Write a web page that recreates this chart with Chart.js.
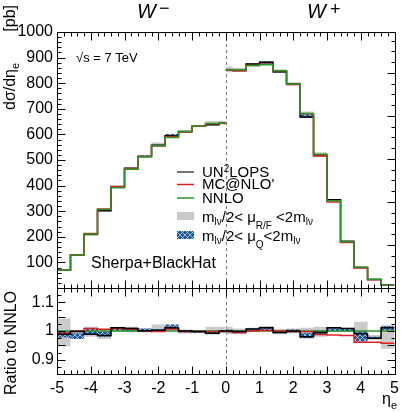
<!DOCTYPE html>
<html>
<head>
<meta charset="utf-8">
<script src="https://cdn.jsdelivr.net/npm/chart.js@4.4.0/dist/chart.umd.min.js"></script>
<style>
  html, body { margin: 0; padding: 0; background: #fff; }
  #wrap { width: 404px; height: 412px; }
</style>
</head>
<body>
<div id="wrap"><canvas id="plot" width="404" height="412"></canvas></div>
<script>
  // bin edges in eta_e (W- drawn at eta<0, W+ at eta>0)
  const edges = [-5, -4.6, -4.2, -3.8, -3.4, -3.0, -2.6, -2.2, -1.8, -1.4, -1.0, -0.6, -0.2, 0,
    0.2, 0.6, 1.0, 1.4, 1.8, 2.2, 2.6, 3.0, 3.4, 3.8, 4.2, 4.6, 5];
  // NNLO dsigma/deta_e [pb]
  const nnlo = [70, 129, 211, 307, 392, 464, 513, 556, 588, 611, 633, 643, 644,
    852, 853, 869, 872, 849, 797, 682, 522, 341, 181, 81, 34, 12];
  // ratios to NNLO
  const ratioUn = [0.989, 0.998, 0.989, 0.984, 1.011, 1.009, 1.001, 1.003, 1.011, 1.0, 0.998, 0.992, 1.0,
    1.0, 0.998, 1.007, 1.011, 0.995, 1.0, 0.98, 0.995, 1.011, 1.009, 0.99, 0.975, 1.011];
  const ratioMc = [0.992, 1.0, 1.009, 1.006, 1.009, 1.006, 1.001, 0.998, 1.007, 0.998, 0.998, 0.998, 0.998,
    0.998, 0.995, 1.0, 1.002, 1.0, 0.998, 0.998, 0.988, 0.986, 0.984, 0.961, 0.961, 0.957];
  // mu_R/F band
  const grayLo = [0.946, 0.986, 0.98, 0.972, 0.998, 0.998, 0.995, 0.998, 1.0, 0.991, 0.992, 0.992, 0.998,
    0.989, 0.989, 0.998, 1.0, 0.989, 0.992, 0.98, 0.98, 0.998, 0.998, 0.988, 0.969, 0.938];
  const grayHi = [1.044, 1.003, 1.015, 1.003, 1.015, 1.015, 1.009, 1.023, 1.018, 1.005, 1.003, 1.015, 1.015,
    1.015, 1.009, 1.011, 1.016, 1.007, 1.009, 1.011, 1.015, 1.014, 1.011, 1.032, 0.986, 1.009];
  // mu_Q band
  const blueLo = [0.977, 0.972, 0.989, 0.98, 1.0, 0.998, 0.998, 0.998, 1.007, 0.995, 0.994, 0.989, 0.995,
    0.995, 0.992, 1.0, 1.003, 0.992, 0.995, 0.975, 0.989, 0.998, 0.998, 0.963, 0.972, 1.003];
  const blueHi = [1.0, 0.992, 1.009, 0.998, 1.011, 1.011, 1.009, 1.007, 1.023, 1.002, 1.001, 1.0, 1.003,
    1.005, 1.003, 1.009, 1.015, 1.0, 1.005, 0.994, 1.003, 1.011, 1.009, 0.998, 0.98, 1.018];

  const xTicks = [-5, -4, -3, -2, -1, 0, 1, 2, 3, 4, 5];
  const yTicks = [100, 200, 300, 400, 500, 600, 700, 800, 900, 1000];
  const rTicks = [0.9, 1, 1.1];

  const FONT = '"Liberation Sans", Arial, sans-serif';

  // step histogram points, gap at eta=0 between W- and W+
  function steps(vals, fac) {
    const pts = [];
    for (let i = 0; i < vals.length; i++) {
      if (i > 0 && edges[i] === 0) pts.push({x: 0, y: null});
      const v = fac ? vals[i] * fac[i] : vals[i];
      pts.push({x: edges[i], y: v}, {x: edges[i + 1], y: v});
    }
    return pts;
  }
  const ones = nnlo.map(() => 1);

  // blue cross-hatch
  const pc = document.createElement('canvas');
  pc.width = 5; pc.height = 5;
  const p = pc.getContext('2d');
  p.fillStyle = '#1d5597';
  p.fillRect(0, 0, 5, 5);
  p.strokeStyle = 'rgba(210,225,245,0.9)';
  p.lineWidth = 0.8;
  p.beginPath();
  p.moveTo(0, 0); p.lineTo(5, 5);
  p.moveTo(5, 0); p.lineTo(0, 5);
  p.stroke();
  const hatch = document.getElementById('plot').getContext('2d').createPattern(pc, 'repeat');

  const GRAY = 'rgba(185,185,185,0.75)';
  const RED = 'rgb(225,30,30)';
  const GREEN = 'rgb(40,150,40)';

  function band(axis, lo, hi, fill, order) {
    return [
      {data: steps(nnlo, hi), yAxisID: axis, borderWidth: 0, backgroundColor: fill, fill: '+1', order: order},
      {data: steps(nnlo, lo), yAxisID: axis, borderWidth: 0, fill: false, order: order}
    ];
  }
  function ratioBand(lo, hi, fill, order) {
    return [
      {data: steps(hi), yAxisID: 'y2', borderWidth: 0, backgroundColor: fill, fill: '+1', order: order},
      {data: steps(lo), yAxisID: 'y2', borderWidth: 0, fill: false, order: order}
    ];
  }

  const datasets = [
    ...band('y', grayLo, grayHi, GRAY, 8),
    ...band('y', blueLo, blueHi, hatch, 7),
    {data: steps(nnlo, ratioUn), yAxisID: 'y', borderColor: '#000', borderWidth: 1.5, fill: false, order: 4},
    {data: steps(nnlo, ratioMc), yAxisID: 'y', borderColor: RED, borderWidth: 1.5, fill: false, order: 3},
    {data: steps(nnlo), yAxisID: 'y', borderColor: GREEN, borderWidth: 1.5, fill: false, order: 2},
    ...ratioBand(grayLo, grayHi, GRAY, 8),
    ...ratioBand(blueLo, blueHi, hatch, 7),
    {data: steps(ones), yAxisID: 'y2', borderColor: GREEN, borderWidth: 1.5, fill: false, order: 3},
    {data: steps(ratioMc), yAxisID: 'y2', borderColor: RED, borderWidth: 1.5, fill: false, order: 2},
    {data: steps(ratioUn), yAxisID: 'y2', borderColor: '#000', borderWidth: 1.5, fill: false, order: 1}
  ];

  function rich(ctx, x, y, parts) {
    for (const [t, size, dy] of parts) {
      ctx.font = size + 'px ' + FONT;
      ctx.fillText(t, x, y + dy);
      x += ctx.measureText(t).width;
    }
  }

  function ticksX(ctx, sx, yEdge, dir) {
    for (let v = -5; v <= 5.001; v += 0.2) {
      const major = Math.abs(v - Math.round(v)) < 1e-6;
      const px = Math.round(sx.getPixelForValue(v)) + 0.5;
      ctx.moveTo(px, yEdge);
      ctx.lineTo(px, yEdge + dir * (major ? 8 : 4));
    }
  }
  function ticksY(ctx, sy, from, to, step, majorEvery, xEdge, dir) {
    let k = 0;
    for (let v = from; v <= to + 1e-9; v += step, k++) {
      const major = k % majorEvery === 0;
      const py = Math.round(sy.getPixelForValue(v)) + 0.5;
      ctx.moveTo(xEdge, py);
      ctx.lineTo(xEdge + dir * (major ? 8 : 4), py);
    }
  }

  const deco = {
    id: 'deco',
    beforeDatasetsDraw(chart) {
      const {ctx, scales: {x, y, y2}} = chart;
      const x0 = Math.round(x.getPixelForValue(0)) + 0.5;
      ctx.save();
      ctx.strokeStyle = '#777';
      ctx.lineWidth = 1;
      ctx.setLineDash([3, 3]);
      ctx.beginPath();
      ctx.moveTo(x0, y.top);
      ctx.lineTo(x0, y2.bottom);
      ctx.stroke();
      ctx.restore();
    },
    afterDraw(chart) {
      const {ctx, scales: {x, y, y2}} = chart;
      const L = Math.round(x.left) + 0.5, R = Math.round(x.right) + 0.5;
      ctx.save();
      ctx.strokeStyle = '#000';
      ctx.lineWidth = 1;
      ctx.strokeRect(L, Math.round(y.top) + 0.5, R - L, Math.round(y.bottom) - Math.round(y.top));
      ctx.strokeRect(L, Math.round(y2.top) + 0.5, R - L, Math.round(y2.bottom) - Math.round(y2.top));
      ctx.beginPath();
      ticksX(ctx, x, Math.round(y.top) + 0.5, 1);
      ticksX(ctx, x, Math.round(y.bottom) + 0.5, -1);
      ticksX(ctx, x, Math.round(y2.top) + 0.5, 1);
      ticksX(ctx, x, Math.round(y2.bottom) + 0.5, -1);
      ticksY(ctx, y, 0, 1000, 20, 5, L, 1);
      ticksY(ctx, y, 0, 1000, 42, 4, R, -1);
      ticksY(ctx, y2, 0.85, 1.15, 0.025, 2, L, 1);
      ticksY(ctx, y2, 0.85, 1.15, 0.025, 2, R, -1);
      ctx.stroke();

      ctx.fillStyle = '#000';
      ctx.textBaseline = 'alphabetic';
      // panel titles
      ctx.font = 'italic 20px ' + FONT;
      ctx.fillText('W', 137, 18);
      ctx.fillText('W', 307, 18);
      ctx.font = '18px ' + FONT;
      ctx.fillText('\u2212', 159, 14);
      ctx.fillText('+', 330, 15);

      // axis titles
      ctx.save();
      ctx.translate(15, 110);
      ctx.rotate(-Math.PI / 2);
      rich(ctx, 0, 0, [['d\u03c3/d\u03b7', 16, 0], ['e', 11, 4]]);
      ctx.restore();
      ctx.save();
      ctx.translate(15, 5);
      ctx.rotate(-Math.PI / 2);
      ctx.font = '16px ' + FONT;
      ctx.textAlign = 'right';
      ctx.fillText('[pb]', 0, 0);
      ctx.restore();
      ctx.save();
      ctx.translate(16, 395);
      ctx.rotate(-Math.PI / 2);
      ctx.font = '16px ' + FONT;
      ctx.fillText('Ratio to NNLO', 0, 0);
      ctx.restore();
      rich(ctx, 382, 404, [['\u03b7', 16, 0], ['e', 11, 5]]);

      // labels
      ctx.font = '13px ' + FONT;
      ctx.fillText('\u221as = 7 TeV', 76, 62);
      ctx.font = '16px ' + FONT;
      ctx.fillText('Sherpa+BlackHat', 91, 268);

      // legend
      const lx = 177, lw = 17, tx = 202;
      ctx.lineWidth = 1.5;
      [['#444', 172], [RED, 184.5], [GREEN, 198]].forEach(([c, ly]) => {
        ctx.strokeStyle = c;
        ctx.beginPath();
        ctx.moveTo(lx, ly); ctx.lineTo(lx + lw, ly);
        ctx.stroke();
      });
      ctx.fillStyle = '#c8c8c8';
      ctx.fillRect(lx, 212, lw, 8);
      ctx.fillStyle = hatch;
      ctx.fillRect(lx, 231, lw, 8);
      ctx.fillStyle = '#000';
      rich(ctx, tx, 177, [['UN', 15, 0], ['2', 10, -5], ['LOPS', 15, 0]]);
      rich(ctx, tx, 189, [["MC@NLO'", 15, 0]]);
      rich(ctx, tx, 203, [['NNLO', 15, 0]]);
      rich(ctx, tx, 222, [['m', 15, 0], ['l\u03bd', 10, 3], ['/2< \u03bc', 15, 0], ['R/F', 10, 7], [' <2m', 15, 0], ['l\u03bd', 10, 3]]);
      rich(ctx, tx, 241, [['m', 15, 0], ['l\u03bd', 10, 3], ['/2< \u03bc', 15, 0], ['Q', 10, 7], ['<2m', 15, 0], ['l\u03bd', 10, 3]]);
      ctx.restore();
    }
  };

  const tickFont = {family: FONT, size: 16};

  new Chart(document.getElementById('plot'), {
    type: 'line',
    data: {datasets},
    options: {
      responsive: false,
      animation: false,
      layout: {padding: {top: 32, right: 6, left: 0, bottom: 0}},
      elements: {point: {radius: 0}, line: {tension: 0}},
      plugins: {legend: {display: false}, tooltip: {enabled: false}},
      scales: {
        x: {
          type: 'linear', min: -5, max: 5,
          grid: {display: false, drawTicks: false}, border: {display: false},
          afterBuildTicks: s => { s.ticks = xTicks.map(v => ({value: v})); },
          afterFit: s => { s.height = 38; },
          ticks: {font: tickFont, color: '#000', padding: 5, maxRotation: 0, autoSkip: false, callback: v => String(v)}
        },
        // ratio panel defined first so the stacked layout puts it below
        y2: {
          type: 'linear', min: 0.85, max: 1.15, position: 'left', stack: 'panels', stackWeight: 86,
          grid: {display: false, drawTicks: false}, border: {display: false},
          afterBuildTicks: s => { s.ticks = rTicks.map(v => ({value: v})); },
          afterFit: s => { s.width = 57; },
          ticks: {font: tickFont, color: '#000', padding: 3, autoSkip: false, callback: v => String(v)}
        },
        y: {
          type: 'linear', min: 0, max: 1000, position: 'left', stack: 'panels', stackWeight: 256,
          grid: {display: false, drawTicks: false}, border: {display: false},
          afterBuildTicks: s => { s.ticks = yTicks.map(v => ({value: v})); },
          afterFit: s => { s.width = 57; },
          ticks: {font: tickFont, color: '#000', padding: 4, autoSkip: false, callback: v => String(v)}
        }
      }
    },
    plugins: [deco]
  });
</script>
</body>
</html>
